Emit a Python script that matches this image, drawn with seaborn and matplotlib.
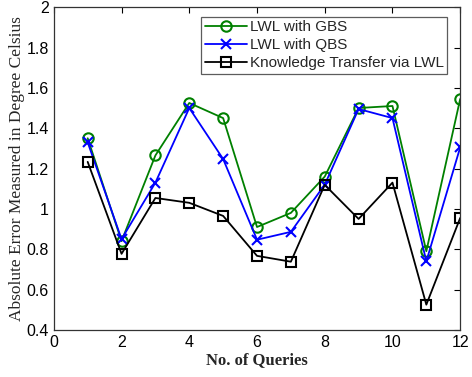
import matplotlib
matplotlib.use("Agg")
import matplotlib.pyplot as plt
import seaborn as sns
import pandas as pd

# values
queries = [1, 2, 3, 4, 5, 6, 7, 8, 9, 10, 11, 12]
lwl_gbs = [1.35, 0.84, 1.265, 1.525, 1.45, 0.91, 0.98, 1.16, 1.50, 1.51, 0.79, 1.545]
lwl_qbs = [1.33, 0.85, 1.13, 1.50, 1.247, 0.847, 0.886, 1.12, 1.495, 1.45, 0.74, 1.305]
kt_lwl = [1.233, 0.777, 1.054, 1.03, 0.965, 0.767, 0.738, 1.119, 0.95, 1.13, 0.525, 0.955]

series_names = ["LWL with GBS", "LWL with QBS", "Knowledge Transfer via LWL"]
df = pd.DataFrame({
    "query": queries * 3,
    "error": lwl_gbs + lwl_qbs + kt_lwl,
    "method": [n for n in series_names for _ in queries],
})

sns.set_style("white")
plt.rcParams["font.family"] = ["Liberation Sans", "DejaVu Sans"]

fig, ax = plt.subplots(figsize=(4.72, 3.77), dpi=100)
fig.subplots_adjust(left=0.114, right=0.975, bottom=0.125, top=0.981)

styles = {
    "LWL with GBS": dict(color="#008000", marker="o"),
    "LWL with QBS": dict(color="#0000ff", marker="x"),
    "Knowledge Transfer via LWL": dict(color="black", marker="s"),
}
for name in series_names:
    st = styles[name]
    sub = df[df["method"] == name]
    sns.lineplot(data=sub, x="query", y="error", ax=ax, color=st["color"],
                 marker=st["marker"], markersize=7.5, markerfacecolor="none",
                 markeredgecolor=st["color"], markeredgewidth=1.5,
                 linewidth=1.3, label=name)

ax.set_xlim(0, 12)
ax.set_ylim(0.4, 2)
ax.set_xticks(range(0, 13, 2))
ax.set_yticks([0.4, 0.6, 0.8, 1, 1.2, 1.4, 1.6, 1.8, 2])
ax.set_yticklabels(["0.4", "0.6", "0.8", "1", "1.2", "1.4", "1.6", "1.8", "2"])
ax.tick_params(direction="in", length=4, top=True, right=True, labelsize=11.5,
               width=0.8, colors="black")
for sp in ax.spines.values():
    sp.set_color("#333333")
    sp.set_linewidth(0.9)

ax.set_xlabel("No. of Queries", fontsize=12, fontweight="bold",
              family="Liberation Serif", labelpad=2)
ax.set_ylabel("Absolute Error Measured in Degree Celsius", fontsize=12.5,
              family="Liberation Serif", labelpad=1)

leg = ax.legend(loc="upper right", bbox_to_anchor=(0.98, 0.985), fontsize=11,
                frameon=True, fancybox=False, borderpad=0.25, labelspacing=0.25,
                handlelength=2.8, handletextpad=0.15, borderaxespad=0.3)
leg.get_frame().set_edgecolor("#333333")
leg.get_frame().set_linewidth(0.9)

fig.savefig("out.png", dpi=100)
